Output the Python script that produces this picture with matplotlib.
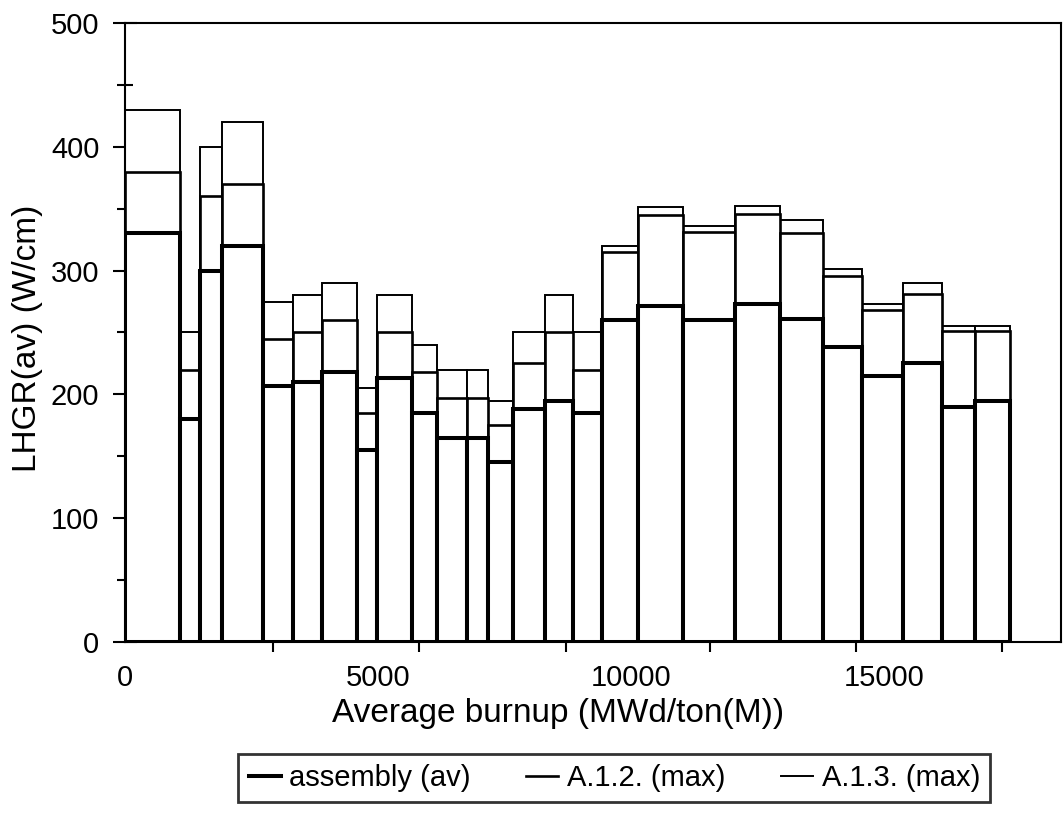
import numpy as np
import matplotlib.pyplot as plt
from matplotlib.lines import Line2D

plt.rcParams['font.family'] = ['Liberation Sans', 'DejaVu Sans']

# bin edges along the burnup axis
edges = [0, 1087, 1482, 1917, 2727, 3320, 3893, 4585, 4980, 5672, 6166, 6759, 7174,
         7668, 8300, 8854, 9427, 10138, 11028, 12055, 12945, 13795, 14565, 15375,
         16146, 16798, 17490]
assembly_av = [330, 180, 300, 320, 207, 210, 218, 155, 213, 185, 165, 165, 145,
               188, 195, 185, 260, 271, 260, 273, 261, 238, 215, 225, 190, 195]
a12_max = [380, 220, 360, 370, 245, 250, 260, 185, 250, 218, 197, 197, 175,
           225, 250, 220, 315, 345, 331, 346, 330, 296, 268, 281, 251, 251]
a13_max = [430, 250, 400, 420, 275, 280, 290, 205, 280, 240, 220, 220, 195,
           250, 280, 250, 320, 351, 336, 352, 341, 301, 273, 290, 255, 255]

x_minor = [0, 2925, 5810, 8715, 11561, 14446, 17331]
x_major = [0, 5000, 10000, 15000]

fig = plt.figure(figsize=(10.63, 8.18), dpi=100)
ax = fig.add_axes([0.1176, 0.2152, 0.8805, 0.7567])

left = np.array(edges[:-1])
width = np.diff(edges)

ax.bar(left, a13_max, width=width, align='edge', facecolor='white', edgecolor='black', linewidth=1.4, zorder=2)
ax.bar(left, a12_max, width=width, align='edge', facecolor='white', edgecolor='black', linewidth=1.9, zorder=3)
ax.bar(left, assembly_av, width=width, align='edge', facecolor='white', edgecolor='black', linewidth=2.9, zorder=4)

ax.set_xlim(0, 18500)
ax.set_ylim(0, 500)

ax.set_xticks(x_major)
ax.set_xticks(x_minor, minor=True)
ax.tick_params(axis='x', which='major', length=0, labelsize=21, pad=16)
ax.tick_params(axis='x', which='minor', direction='inout', length=14, width=1.5)

ax.set_yticks(range(0, 501, 100))
ax.set_yticks(range(50, 500, 100), minor=True)
ax.tick_params(axis='y', which='major', direction='inout', length=17, width=1.5, labelsize=21, pad=10)
ax.tick_params(axis='y', which='minor', direction='inout', length=11, width=1.5)

for s in ax.spines.values():
    s.set_linewidth(1.5)

ax.set_xlabel('Average burnup (MWd/ton(M))', fontsize=24)
ax.xaxis.set_label_coords((558 - 125) / 936, -0.09)
ax.set_ylabel('LHGR(av) (W/cm)', fontsize=24)
ax.yaxis.set_label_coords(-0.088, 0.49)

handles = [Line2D([], [], color='black', lw=2.9),
           Line2D([], [], color='black', lw=1.9),
           Line2D([], [], color='black', lw=1.4)]
labels = ['assembly (av)', 'A.1.2. (max)', 'A.1.3. (max)']
leg = fig.legend(handles, labels, loc='center', bbox_to_anchor=(0.578, 0.049), ncol=3,
                 fontsize=21, frameon=True, fancybox=False, edgecolor='black',
                 handlelength=1.1, handletextpad=0.3, columnspacing=1.9, borderpad=0.35)
leg.get_frame().set_linewidth(2)

fig.savefig('out.png', dpi=100)
